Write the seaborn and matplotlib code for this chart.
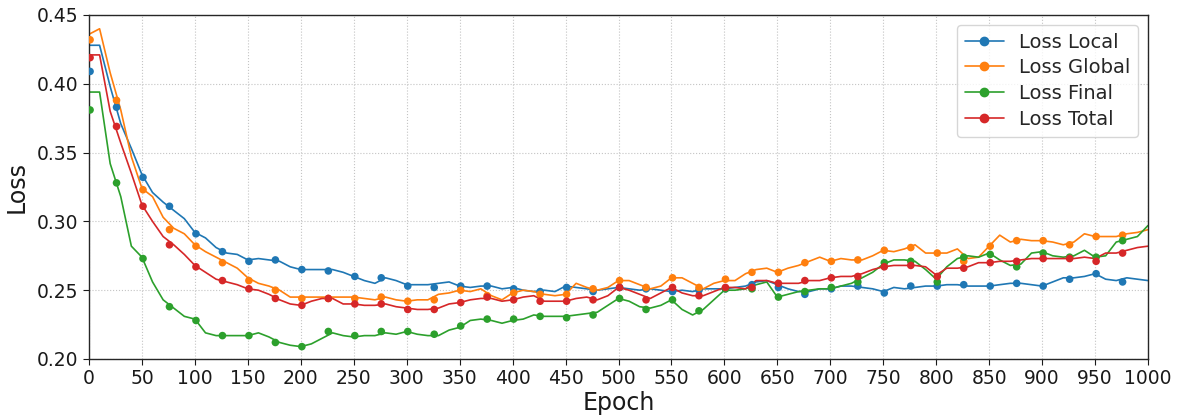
import numpy as np
import pandas as pd
import matplotlib
matplotlib.use("Agg")
import matplotlib.pyplot as plt
from matplotlib.lines import Line2D
import seaborn as sns

# ---------------- data ----------------
series_names = ["Loss Local", "Loss Global", "Loss Final", "Loss Total"]

line_epochs = list(range(0, 1001, 10))
marker_epochs = list(range(1, 1000, 25))

local_line = [
    0.428, 0.428, 0.398, 0.371, 0.353, 0.334, 0.321, 0.314, 0.308, 0.302,
    0.292, 0.288, 0.281, 0.277, 0.276, 0.272, 0.273, 0.272, 0.271, 0.267,
    0.265, 0.265, 0.265, 0.265, 0.263, 0.260, 0.257, 0.255, 0.259, 0.257,
    0.254, 0.254, 0.254, 0.255, 0.256, 0.253, 0.252, 0.253, 0.253, 0.251,
    0.252, 0.250, 0.249, 0.250, 0.249, 0.253, 0.252, 0.251, 0.250, 0.251,
    0.252, 0.251, 0.250, 0.251, 0.250, 0.249, 0.250, 0.249, 0.251, 0.251,
    0.251, 0.252, 0.253, 0.256, 0.257, 0.254, 0.251, 0.249, 0.249, 0.251,
    0.251, 0.253, 0.253, 0.252, 0.251, 0.249, 0.252, 0.251, 0.252, 0.253,
    0.253, 0.254, 0.254, 0.253, 0.253, 0.253, 0.254, 0.255, 0.255, 0.254,
    0.253, 0.256, 0.259, 0.259, 0.260, 0.262, 0.258, 0.257, 0.259, 0.258,
    0.257,
]
global_line = [
    0.436, 0.440, 0.408, 0.381, 0.347, 0.324, 0.318, 0.303, 0.295, 0.291,
    0.283, 0.278, 0.274, 0.270, 0.266, 0.259, 0.255, 0.253, 0.250, 0.245,
    0.245, 0.245, 0.245, 0.245, 0.245, 0.245, 0.244, 0.243, 0.245, 0.243,
    0.242, 0.243, 0.243, 0.247, 0.248, 0.250, 0.249, 0.251, 0.246, 0.243,
    0.248, 0.250, 0.249, 0.247, 0.246, 0.247, 0.255, 0.252, 0.250, 0.252,
    0.257, 0.257, 0.254, 0.251, 0.253, 0.259, 0.259, 0.255, 0.251, 0.255,
    0.257, 0.257, 0.262, 0.265, 0.266, 0.263, 0.266, 0.268, 0.271, 0.274,
    0.271, 0.273, 0.272, 0.272, 0.275, 0.279, 0.278, 0.280, 0.283, 0.277,
    0.277, 0.277, 0.280, 0.273, 0.274, 0.282, 0.290, 0.285, 0.287, 0.286,
    0.286, 0.285, 0.283, 0.285, 0.291, 0.289, 0.289, 0.289, 0.291, 0.292,
    0.294,
]
final_line = [
    0.394, 0.394, 0.342, 0.318, 0.282, 0.274, 0.256, 0.243, 0.237, 0.231,
    0.229, 0.219, 0.217, 0.217, 0.217, 0.217, 0.219, 0.216, 0.212, 0.210,
    0.209, 0.211, 0.215, 0.219, 0.217, 0.216, 0.217, 0.217, 0.219, 0.218,
    0.220, 0.218, 0.217, 0.217, 0.221, 0.223, 0.228, 0.229, 0.228, 0.226,
    0.228, 0.229, 0.232, 0.231, 0.231, 0.231, 0.232, 0.233, 0.234, 0.239,
    0.244, 0.242, 0.238, 0.237, 0.239, 0.243, 0.236, 0.232, 0.236, 0.243,
    0.250, 0.250, 0.251, 0.254, 0.256, 0.245, 0.247, 0.249, 0.250, 0.251,
    0.251, 0.253, 0.255, 0.259, 0.263, 0.269, 0.272, 0.272, 0.271, 0.265,
    0.258, 0.267, 0.273, 0.275, 0.274, 0.277, 0.272, 0.268, 0.269, 0.277,
    0.278, 0.275, 0.274, 0.275, 0.279, 0.274, 0.275, 0.285, 0.287, 0.289,
    0.297,
]
total_line = [
    0.421, 0.421, 0.380, 0.357, 0.335, 0.312, 0.300, 0.289, 0.283, 0.276,
    0.268, 0.263, 0.258, 0.256, 0.254, 0.251, 0.250, 0.247, 0.243, 0.240,
    0.239, 0.242, 0.244, 0.244, 0.240, 0.240, 0.239, 0.239, 0.240, 0.238,
    0.237, 0.236, 0.236, 0.237, 0.240, 0.241, 0.243, 0.244, 0.244, 0.242,
    0.243, 0.245, 0.246, 0.242, 0.242, 0.242, 0.244, 0.245, 0.243, 0.246,
    0.252, 0.250, 0.247, 0.244, 0.248, 0.252, 0.248, 0.246, 0.246, 0.249,
    0.252, 0.252, 0.251, 0.257, 0.257, 0.255, 0.255, 0.255, 0.257, 0.257,
    0.259, 0.260, 0.260, 0.262, 0.265, 0.267, 0.268, 0.268, 0.268, 0.267,
    0.261, 0.266, 0.266, 0.267, 0.270, 0.270, 0.271, 0.271, 0.272, 0.273,
    0.273, 0.273, 0.273, 0.273, 0.274, 0.273, 0.277, 0.277, 0.279, 0.281,
    0.282,
]

local_markers = [
    0.409, 0.383, 0.332, 0.311, 0.291, 0.278, 0.271, 0.272, 0.265, 0.264,
    0.260, 0.259, 0.253, 0.252, 0.253, 0.253, 0.251, 0.249, 0.252, 0.249,
    0.252, 0.251, 0.249, 0.250, 0.251, 0.254, 0.252, 0.247, 0.251, 0.253,
    0.248, 0.253, 0.253, 0.254, 0.253, 0.255, 0.253, 0.258, 0.262, 0.256,
]
global_markers = [
    0.432, 0.388, 0.323, 0.294, 0.282, 0.270, 0.257, 0.250, 0.244, 0.244,
    0.244, 0.245, 0.242, 0.243, 0.250, 0.246, 0.248, 0.247, 0.247, 0.251,
    0.257, 0.252, 0.259, 0.252, 0.258, 0.263, 0.263, 0.270, 0.271, 0.272,
    0.279, 0.281, 0.277, 0.271, 0.282, 0.286, 0.286, 0.283, 0.289, 0.290,
]
final_markers = [
    0.381, 0.328, 0.273, 0.238, 0.228, 0.217, 0.217, 0.212, 0.209, 0.220,
    0.217, 0.220, 0.220, 0.218, 0.224, 0.229, 0.229, 0.231, 0.230, 0.232,
    0.244, 0.236, 0.243, 0.235, 0.251, 0.251, 0.245, 0.249, 0.252, 0.256,
    0.270, 0.271, 0.256, 0.274, 0.276, 0.267, 0.277, 0.274, 0.274, 0.286,
]
total_markers = [
    0.419, 0.369, 0.311, 0.283, 0.267, 0.257, 0.251, 0.244, 0.239, 0.244,
    0.240, 0.240, 0.236, 0.236, 0.241, 0.245, 0.243, 0.242, 0.242, 0.243,
    0.252, 0.243, 0.252, 0.246, 0.252, 0.252, 0.255, 0.257, 0.259, 0.260,
    0.267, 0.268, 0.260, 0.266, 0.270, 0.271, 0.273, 0.273, 0.271, 0.277,
]

x_ticks = list(range(0, 1001, 50))
y_ticks = [0.20, 0.25, 0.30, 0.35, 0.40, 0.45]

# ---------------- build frames ----------------
line_values = [local_line, global_line, final_line, total_line]
marker_values = [local_markers, global_markers, final_markers, total_markers]

line_df = pd.concat(
    [pd.DataFrame({"Epoch": line_epochs, "Loss": v, "series": n})
     for n, v in zip(series_names, line_values)],
    ignore_index=True,
)
marker_df = pd.concat(
    [pd.DataFrame({"Epoch": marker_epochs, "Loss": v, "series": n})
     for n, v in zip(series_names, marker_values)],
    ignore_index=True,
)

# ---------------- plot ----------------
sns.set_style("ticks")
plt.rcParams["font.family"] = ["DejaVu Sans"]

palette = dict(zip(series_names, sns.color_palette("tab10", 4)))

fig = plt.figure(figsize=(11.81, 4.18), dpi=100)
ax = fig.add_axes([89 / 1181, 1 - 359 / 418, (1148 - 89) / 1181, (359 - 15) / 418])

sns.lineplot(data=line_df, x="Epoch", y="Loss", hue="series", palette=palette,
             hue_order=series_names, linewidth=1.2, legend=False, ax=ax,
             estimator=None, sort=False)
sns.scatterplot(data=marker_df, x="Epoch", y="Loss", hue="series", palette=palette,
                hue_order=series_names, s=30, linewidth=0, legend=False, ax=ax,
                zorder=3)

ax.set_xlim(0, 1000)
ax.set_ylim(0.20, 0.45)
ax.set_xticks(x_ticks)
ax.set_yticks(y_ticks)
ax.set_yticklabels([f"{t:.2f}" for t in y_ticks])
ax.tick_params(labelsize=13.5, colors="#1a1a1a", length=4)
ax.set_xlabel("Epoch", fontsize=17, labelpad=2, color="#1a1a1a")
ax.set_ylabel("Loss", fontsize=17, labelpad=6, color="#1a1a1a")
ax.grid(True, linestyle=":", color="#c4c4c4", linewidth=0.8)
for s in ax.spines.values():
    s.set_visible(True)
    s.set_color("#262626")
    s.set_linewidth(1.0)

handles = [Line2D([0], [0], color=palette[n], marker="o", markersize=6, linewidth=1.2)
           for n in series_names]
ax.legend(handles, series_names, loc="upper right", fontsize=14, frameon=True,
          handlelength=2.0, borderpad=0.4, labelspacing=0.35, fancybox=True)

fig.savefig("out.png", dpi=100)
